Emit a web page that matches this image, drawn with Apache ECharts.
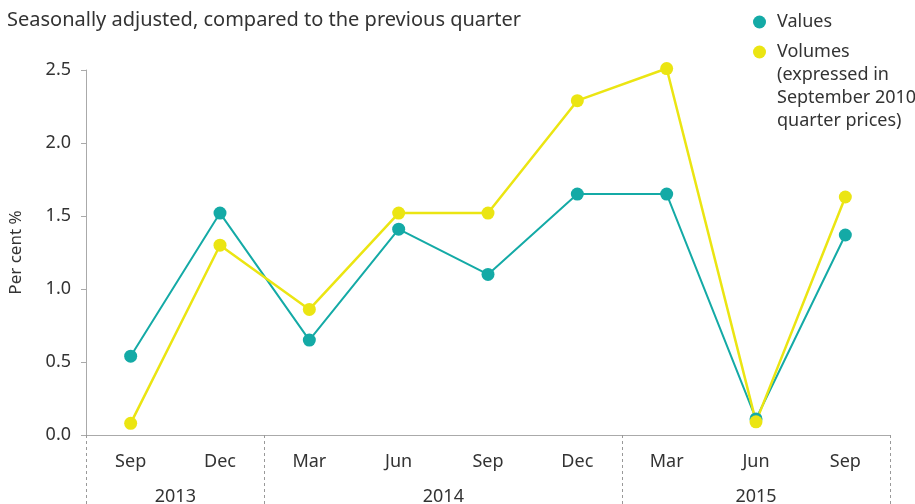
<!DOCTYPE html>
<html>
<head>
<meta charset="utf-8">
<script src="https://cdn.jsdelivr.net/npm/echarts@6/dist/echarts.min.js"></script>
<style>
html,body{margin:0;padding:0;background:#fff;}
#chart{width:915px;height:504px;}
</style>
</head>
<body>
<div id="chart"></div>
<script>
// ---- data ----
var quarters = ['Sep','Dec','Mar','Jun','Sep','Dec','Mar','Jun','Sep'];
var years = ['2013','2014','2015'];
var quartersPerYear = [2,4,3];
var valuesSeries = [0.54,1.52,0.65,1.41,1.10,1.65,1.65,0.11,1.37];
var volumesSeries = [0.08,1.30,0.86,1.52,1.52,2.29,2.51,0.09,1.63];
var yTicks = [0,0.5,1.0,1.5,2.0,2.5];

var titleText = 'Seasonally adjusted, compared to the previous quarter';
var yName = 'Per cent %';
var valuesName = 'Values';
var volumesName = 'Volumes';
var volumesNote = '(expressed in\nSeptember 2010\nquarter prices)';

// derived year boundaries and centres (in quarter units)
var bounds = [0], centres = [], acc = 0;
quartersPerYear.forEach(function(n){ centres.push(acc + n/2); acc += n; bounds.push(acc); });

var teal = '#14aaa6';
var yellow = '#ebe512';
var textCol = '#333333';
var axisCol = '#aaaaaa';
var font = 'Noto Sans';

var chart = echarts.init(document.getElementById('chart'));
chart.setOption({
  animation: false,
  textStyle: {fontFamily: font},
  title: [
    {text: titleText, left: 7, top: 8, padding: 0,
     textStyle: {fontSize: 20, fontWeight: 'normal', color: textCol, fontFamily: font, lineHeight: 24}},
    {text: volumesNote, left: 777, top: 63, padding: 0,
     textStyle: {fontSize: 18, fontWeight: 'normal', color: textCol, lineHeight: 23, fontFamily: font}}
  ],
  legend: {
    orient: 'vertical', left: 748, top: 6,
    itemWidth: 13, itemHeight: 13, itemGap: 8,
    icon: 'circle',
    textStyle: {fontSize: 18, color: textCol, lineHeight: 22, fontFamily: font, padding: [0,0,0,6]},
    data: [valuesName, volumesName]
  },
  grid: {left: 86, right: 25, top: 70, bottom: 69, outerBoundsMode: 'none', containLabel: false},
  xAxis: [
    {type: 'category', data: quarters, boundaryGap: true,
     axisLine: {lineStyle: {color: axisCol, width: 1}},
     axisTick: {alignWithLabel: true, length: 7, lineStyle: {color: axisCol}},
     axisLabel: {fontSize: 18, color: textCol, margin: 18, fontFamily: font}},
    {type: 'value', min: 0, max: acc, position: 'bottom',
     axisLine: {show: false},
     splitLine: {show: false},
     axisTick: {show: true, customValues: bounds, length: 69, inside: false,
                lineStyle: {color: '#999', type: [3,3], width: 1}},
     axisLabel: {show: true, customValues: centres, fontSize: 18, color: textCol, margin: 53, fontFamily: font,
                 formatter: function(v){ var i = centres.indexOf(v); return i >= 0 ? years[i] : ''; }}}
  ],
  yAxis: {
    type: 'value', min: yTicks[0], max: yTicks[yTicks.length-1], interval: 0.5,
    name: yName, nameLocation: 'middle', nameGap: 61, nameRotate: 90,
    nameTextStyle: {fontSize: 17, color: textCol, fontFamily: font},
    axisLine: {show: true, lineStyle: {color: axisCol}},
    axisTick: {show: true, length: 5, lineStyle: {color: axisCol}},
    splitLine: {show: false},
    axisLabel: {fontSize: 18, color: textCol, margin: 15, fontFamily: font,
                formatter: function(v){ return v.toFixed(1); }}
  },
  series: [
    {name: valuesName, type: 'line', data: valuesSeries, xAxisIndex: 0, clip: false,
     symbol: 'circle', symbolSize: 13, itemStyle: {color: teal},
     lineStyle: {color: teal, width: 2}},
    {name: volumesName, type: 'line', data: volumesSeries, xAxisIndex: 0, clip: false,
     symbol: 'circle', symbolSize: 13, itemStyle: {color: yellow},
     lineStyle: {color: yellow, width: 2.5}}
  ]
});
</script>
</body>
</html>
